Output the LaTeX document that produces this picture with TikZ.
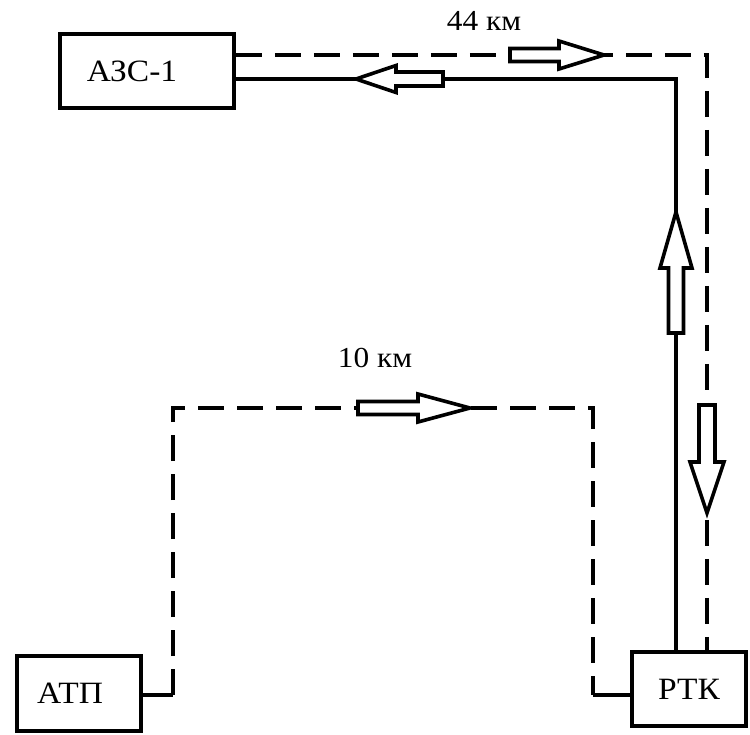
\documentclass[tikz,border=0pt]{standalone}
\usepackage{fontspec}
\setmainfont{Liberation Serif}[FakeStretch=1.08]
\begin{document}
\begin{tikzpicture}[x=1pt,y=-1pt,
  box/.style={draw,line width=3.8pt,inner sep=0pt,font=\fontsize{31}{34}\selectfont},
  lbl/.style={inner sep=0pt,font=\fontsize{29}{32}\selectfont},
  solidline/.style={line width=3.6pt},
  dashline/.style={line width=3.6pt,dash pattern=on 26pt off 13pt},
  hollow/.style={draw,fill=white,line width=3.6pt,line join=miter}]
\useasboundingbox (0,0) rectangle (750,734);
% boxes
\node[box,minimum width=174pt,minimum height=74pt] (azs) at (147,71) {\hspace*{-30pt}АЗС-1};
\node[box,minimum width=124pt,minimum height=75pt] (atp) at (79,693.5) {\hspace*{-18pt}АТП};
\node[box,minimum width=114pt,minimum height=74pt] (rtk) at (689,689) {РТК};
% labels
\node[lbl] (l44) at (484,21) {44 км};
\node[lbl] (l10) at (375,358) {10 км};
% helper coordinates
\coordinate (yd) at (0,55);
\coordinate (ys) at (0,79);
\coordinate (xs) at (676,0);
\coordinate (xd) at (707,0);
\coordinate (yb) at (0,695);
\coordinate (xl) at (173,0);
\coordinate (xr) at (593,0);
\coordinate (yt) at (0,408);
% upper routes
\draw[dashline] (azs.east |- yd) -- (xd |- yd) -- (xd |- rtk.north);
\draw[solidline] (azs.east |- ys) -- (xs |- ys) -- (xs |- rtk.north);
% lower route
\draw[solidline] (atp.east |- yb) -- (xl |- yb);
\draw[dashline] (xl |- yb) -- (xl |- yt) -- (xr |- yt) -- (xr |- yb);
\draw[solidline] (xr |- yb) -- (rtk.west |- yb);
% hollow arrows
\draw[hollow] (510,48.5) -- (559,48.5) -- (559,41) -- (604,55) -- (559,69) -- (559,61.5) -- (510,61.5) -- cycle;
\draw[hollow] (443,72) -- (396,72) -- (396,65.5) -- (356,79) -- (396,92.5) -- (396,86) -- (443,86) -- cycle;
\draw[hollow] (668.5,333) -- (668.5,268) -- (660,268) -- (676,212) -- (692,268) -- (683.5,268) -- (683.5,333) -- cycle;
\draw[hollow] (699,405) -- (699,462) -- (690,462) -- (707,513) -- (724,462) -- (715,462) -- (715,405) -- cycle;
\draw[hollow] (358,401.5) -- (418,401.5) -- (418,394) -- (470,408) -- (418,422) -- (418,414.5) -- (358,414.5) -- cycle;
\end{tikzpicture}
\end{document}
